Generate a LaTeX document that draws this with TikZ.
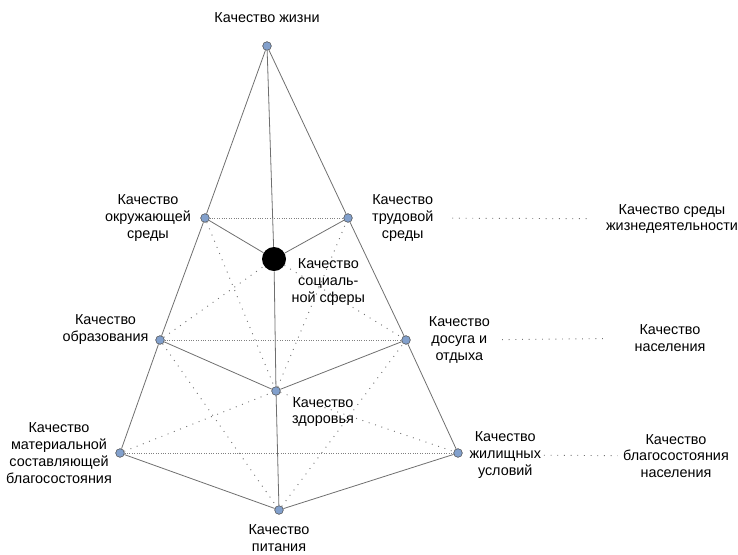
\documentclass[tikz,border=0pt]{standalone}
\usepackage{fontspec}
\setmainfont{Liberation Sans}
\usetikzlibrary{positioning}
\definecolor{edgegray}{HTML}{6F6F6F}
\definecolor{knotblue}{HTML}{82A0CC}

\begin{document}
\begin{tikzpicture}[x=0.75pt,y=-0.75pt,
  knot/.style={circle,draw=gray!60!black,fill=knotblue,inner sep=0pt,minimum size=6.5pt},
  hub/.style={circle,fill=black,inner sep=0pt,minimum size=18pt},
  lbl/.style={align=center,inner sep=1pt,font=\fontsize{10.8}{12.6}\selectfont},
  side/.style={edgegray,line width=0.6pt},
  hdots/.style={gray,line width=0.5pt,dash pattern=on 0.6pt off 1.2pt},
  xdots/.style={gray!90!black,line width=0.7pt,dash pattern=on 0.7pt off 4.3pt}]

        \useasboundingbox (0,0) rectangle (738,554);

        \node[knot] (Top) at (267,46) {};
        \node[knot] (OS) at (205,218) {};
        \node[knot] (TS) at (348,218) {};
        \node[hub] (SOC) at (274,259) {};
        \node[knot] (OBR) at (160,340) {};
        \node[knot] (DOS) at (406,340) {};
        \node[knot] (ZDR) at (276,391) {};
        \node[knot] (MAT) at (120,453) {};
        \node[knot] (ZHI) at (458,453) {};
        \node[knot] (PIT) at (279,510) {};

        \node[lbl] (lTop) [above=12.5pt of Top] {Качество жизни};
        \node[lbl] (lOS) [left=6pt of OS] {Качество\\окружающей\\среды};
        \node[lbl] (lTS) [right=13.5pt of TS] {Качество\\трудовой\\среды};
        \node[lbl] (lSOC) [below right=-8pt and 5.5pt of SOC] {Качество\\социаль-\\ной сферы};
        \node[lbl] (lOBR) [left=4pt of OBR,yshift=8pt] {Качество\\образования};
        \node[lbl] (lDOS) [right=12.5pt of DOS] {Качество\\досуга и\\отдыха};
        \node[lbl] (lZDR) [below right=1pt and 8.5pt of ZDR] {Качество\\здоровья};
        \node[lbl] (lMAT) [left=1.5pt of MAT] {Качество\\материальной\\составляющей\\благосостояния};
        \node[lbl] (lZHI) [right=4pt of ZHI,yshift=-1.5pt] {Качество\\жилищных\\условий};
        \node[lbl] (lPIT) [below=6.5pt of PIT] {Качество\\питания};

        \node[lbl] (rENV) at (672,219) {Качество среды\\жизнедеятельности};
        \node[lbl] (rPOP) at (670,338) {Качество\\населения};
        \node[lbl] (rWEL) at (676,456) {Качество\\благосостояния\\населения};

        \draw[side] (Top) -- (OS) -- (OBR) -- (MAT);
        \draw[side] (Top) -- (TS) -- (DOS) -- (ZHI);
        \draw[side] (Top) -- (SOC) -- (ZDR) -- (PIT);
        \draw[side] (OS) -- (SOC) -- (TS);
        \draw[side] (OBR) -- (ZDR) -- (DOS);
        \draw[side] (MAT) -- (PIT) -- (ZHI);

        \draw[hdots] (OS) -- (TS);
        \draw[hdots] (OBR) -- (DOS);
        \draw[hdots] (MAT) -- (ZHI);

        \draw[xdots] (OS) -- (ZDR) -- (TS);
        \draw[xdots] (OBR) -- (SOC) -- (DOS);
        \draw[xdots] (OBR) -- (PIT) -- (DOS);
        \draw[xdots] (MAT) -- (ZDR) -- (ZHI);

        \draw[xdots,shorten <=13pt,shorten >=12pt] (lTS) -- (rENV);
        \draw[xdots,shorten <=8pt,shorten >=20pt] (lDOS) -- (rPOP);
        \draw[xdots,shorten <=1pt,shorten >=3pt] (lZHI) -- (rWEL);
      \end{tikzpicture}
\end{document}
